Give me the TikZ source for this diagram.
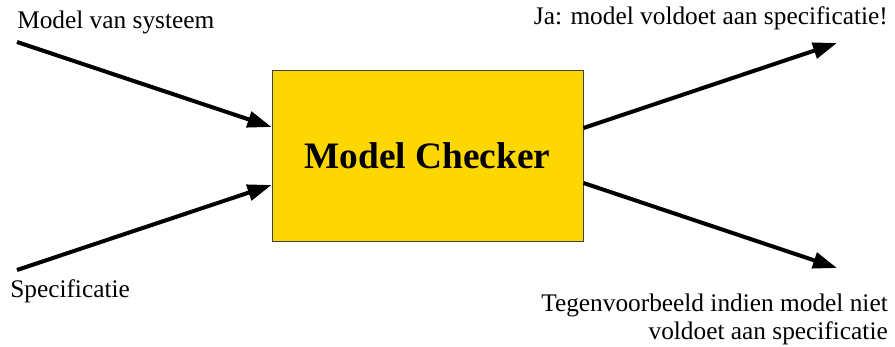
\documentclass[tikz,border=0pt]{standalone}
\usepackage{fontspec}
\setmainfont{Liberation Serif}
\usetikzlibrary{arrows.meta}

\begin{document}
\begin{tikzpicture}[x=0.75pt, y=-0.75pt,
    flow/.style={line width=3pt, -{Triangle[length=18pt, width=12pt]}},
    label/.style={inner sep=0pt, font=\fontsize{19}{21}\selectfont}]
    \useasboundingbox (0,0) rectangle (895,346);

    % The checker itself
    \node[draw=black!75, fill={rgb,255:red,255;green,215;blue,0}, line width=0.75pt,
          minimum width=233.25pt, minimum height=127.5pt,
          font=\bfseries\fontsize{28}{32}\selectfont] (mc) at (427.5,156) {Model Checker};

    % Inputs
    \node[label, anchor=base west] (sys) at (17,29) {Model van systeem};
    \node[label, anchor=base west] (spec) at (10,297) {Specificatie};
    \coordinate (sysEnd) at (17,42);
    \coordinate (specEnd) at (17,270);

    % Outputs
    \node[label, anchor=base east] (yes) at (888,25) {Ja: model voldoet aan specificatie!};
    \node[label, anchor=south east, align=right] (no) at (888,345)
        {Tegenvoorbeeld indien model niet\\voldoet aan specificatie};
    \coordinate (yesEnd) at (837,43);
    \coordinate (noEnd) at (837,268);

    % Arrows in and out
    \draw[flow] (sysEnd) -- ([yshift=21.75pt]mc.west);
    \draw[flow] (specEnd) -- ([yshift=-21.75pt]mc.west);
    \draw[flow] ([yshift=21pt]mc.east) -- (yesEnd);
    \draw[flow] ([yshift=-20.25pt]mc.east) -- (noEnd);

\end{tikzpicture}
\end{document}
